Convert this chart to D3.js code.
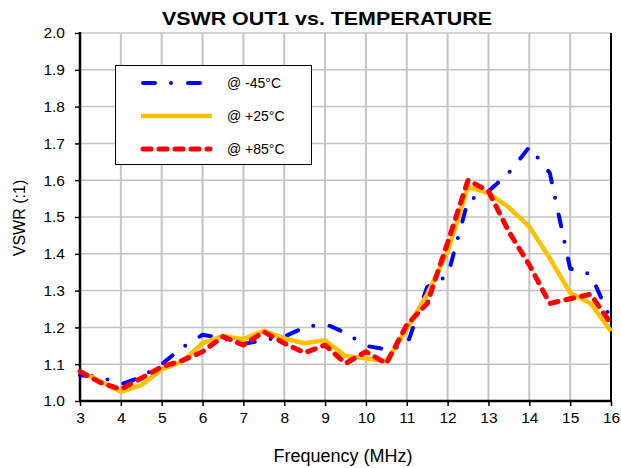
<!DOCTYPE html>
<html>
<head>
<meta charset="utf-8">
<script src="https://cdn.jsdelivr.net/npm/d3@7"></script>
<style>
  html, body { margin: 0; padding: 0; background: #fff; }
  svg { display: block; font-family: "Liberation Sans", Arial, sans-serif; }
</style>
</head>
<body>
<svg id="chart" width="621" height="468"></svg>
<script>
// Frequency sweep (MHz)
const freq = [3, 3.5, 4, 4.5, 5, 5.5, 6, 6.5, 7, 7.5, 8, 8.5, 9, 9.5, 10,
              10.5, 11, 11.5, 12, 12.5, 13, 13.5, 14, 14.5, 15, 15.5, 16];

// VSWR at each temperature
const vswrM45 = [1.07, 1.065, 1.045, 1.065, 1.10, 1.145, 1.18, 1.17, 1.155, 1.165, 1.175, 1.20, 1.21, 1.185, 1.15,
                 1.14, 1.15, 1.31, 1.34, 1.545, 1.57, 1.62, 1.69, 1.62, 1.36, 1.345, 1.22];
const vswrP25 = [1.08, 1.053, 1.025, 1.043, 1.086, 1.107, 1.157, 1.177, 1.168, 1.191, 1.17, 1.157, 1.165, 1.122, 1.116,
                 1.108, 1.195, 1.29, 1.406, 1.582, 1.565, 1.526, 1.474, 1.388, 1.294, 1.265, 1.19];
const vswrP85 = [1.08, 1.05, 1.032, 1.062, 1.093, 1.11, 1.134, 1.175, 1.152, 1.188, 1.157, 1.131, 1.152, 1.102, 1.134,
                 1.102, 1.207, 1.265, 1.43, 1.60, 1.57, 1.46, 1.37, 1.265, 1.278, 1.29, 1.21];

const seriesNames = ["@ -45°C", "@ +25°C", "@ +85°C"];
const xTicks = [3, 4, 5, 6, 7, 8, 9, 10, 11, 12, 13, 14, 15, 16];
const yTicks = [1.0, 1.1, 1.2, 1.3, 1.4, 1.5, 1.6, 1.7, 1.8, 1.9, 2.0];

const series = [
  { name: seriesNames[0], values: vswrM45, color: "#0000ff", width: 4,   dash: "12,16,0,17" },
  { name: seriesNames[1], values: vswrP25, color: "#ffc000", width: 4.5, dash: null },
  { name: seriesNames[2], values: vswrP85, color: "#ff0000", width: 5,   dash: "8,8" }
];

const svg = d3.select("#chart");
const plotLeft = 80, plotRight = 611, plotTop = 33, plotBottom = 401;

const x = d3.scaleLinear().domain([3, 16]).range([plotLeft, plotRight]);
const y = d3.scaleLinear().domain([1.0, 2.0]).range([plotBottom, plotTop]);

// Grid
const grid = svg.append("g");
grid.selectAll("line.h").data(yTicks.filter(v => v > 1.0)).join("line")
  .attr("x1", plotLeft).attr("x2", plotRight)
  .attr("y1", d => y(d)).attr("y2", d => y(d))
  .attr("stroke", "#c4c4c4").attr("stroke-width", 1.5);
grid.selectAll("line.v").data(xTicks.filter(v => v > 3 && v < 16)).join("line")
  .attr("y1", plotTop).attr("y2", plotBottom)
  .attr("x1", d => x(d)).attr("x2", d => x(d))
  .attr("stroke", "#c4c4c4").attr("stroke-width", 2);

// Right border
svg.append("line")
  .attr("x1", plotRight).attr("x2", plotRight).attr("y1", plotTop).attr("y2", plotBottom)
  .attr("stroke", "#000").attr("stroke-width", 2);

// Axes
const xAxis = svg.append("g")
  .attr("transform", `translate(0,${plotBottom})`)
  .call(d3.axisBottom(x).tickValues(xTicks).tickFormat(d3.format("d")).tickSizeOuter(0).tickSize(5).tickPadding(6));
const yAxis = svg.append("g")
  .attr("transform", `translate(${plotLeft},0)`)
  .call(d3.axisLeft(y).tickValues(yTicks).tickFormat(d3.format(".1f")).tickSizeOuter(0).tickSize(5).tickPadding(10));

[xAxis, yAxis].forEach(a => {
  a.select(".domain").attr("stroke", "#000").attr("stroke-width", 2.5);
  a.selectAll(".tick line").attr("stroke", "#000").attr("stroke-width", 1.5);
  a.selectAll(".tick text").attr("fill", "#000").style("font-size", "15.5px")
    .style("font-family", '"Liberation Sans", Arial, sans-serif');
});
yAxis.select(".domain").attr("d", `M0,${plotTop - 1}V${plotBottom + 1}`);
xAxis.select(".domain").attr("d", `M${plotLeft - 1},0H${plotRight + 1}`);

// Lines, drawn in series order (-45°C at the bottom, +85°C on top)
const line = d3.line()
  .x((d, i) => x(freq[i]))
  .y(d => y(d));

const plot = svg.append("g");
series.forEach(s => {
  plot.append("path")
    .datum(s.values)
    .attr("d", line)
    .attr("fill", "none")
    .attr("stroke", s.color)
    .attr("stroke-width", s.width)
    .attr("stroke-linecap", s.dash ? "round" : "butt")
    .attr("stroke-linejoin", "round")
    .attr("stroke-dasharray", s.dash);
});

// Legend
const legend = svg.append("g");
legend.append("rect")
  .attr("x", 115.5).attr("y", 65.5).attr("width", 196).attr("height", 99)
  .attr("fill", "#fff").attr("stroke", "#000").attr("stroke-width", 1);
series.forEach((s, i) => {
  const ly = 83 + i * 33;
  legend.append("line")
    .attr("x1", s.dash ? 143 : 141).attr("x2", s.dash ? 210 : 212)
    .attr("y1", ly).attr("y2", ly)
    .attr("stroke", s.color).attr("stroke-width", s.width)
    .attr("stroke-linecap", s.dash ? "round" : "butt")
    .attr("stroke-dasharray", s.dash);
  legend.append("text")
    .attr("x", 227).attr("y", ly + 5)
    .style("font-size", "14px").attr("fill", "#000")
    .text(s.name);
});

// Titles
svg.append("text")
  .attr("x", 327).attr("y", 25)
  .attr("text-anchor", "middle")
  .attr("textLength", 330).attr("lengthAdjust", "spacingAndGlyphs")
  .style("font-size", "19px").style("font-weight", "bold")
  .text("VSWR OUT1 vs. TEMPERATURE");

svg.append("text")
  .attr("x", 343).attr("y", 462)
  .attr("text-anchor", "middle")
  .style("font-size", "18px")
  .text("Frequency (MHz)");

svg.append("text")
  .attr("transform", "translate(25,218) rotate(-90)")
  .attr("text-anchor", "middle")
  .style("font-size", "16px")
  .text("VSWR (:1)");
</script>
</body>
</html>
